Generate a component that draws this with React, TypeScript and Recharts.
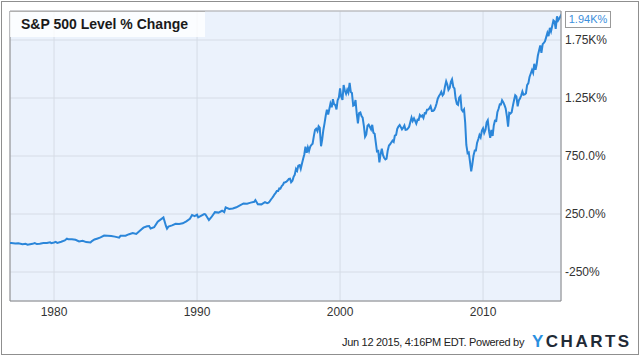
import { CartesianGrid, Line, LineChart, ReferenceLine, XAxis, YAxis } from "recharts";

// fractional year of each reading (month ends from 1995 on)
const years = [
  1976.92, 1977.0, 1977.3, 1977.5, 1977.8, 1978.0, 1978.15, 1978.5, 1978.65, 1978.8,
  1979.0, 1979.25, 1979.5, 1979.72, 1979.8, 1980.0, 1980.12, 1980.23, 1980.5, 1980.75,
  1980.9, 1981.0, 1981.25, 1981.5, 1981.75, 1982.0, 1982.25, 1982.55, 1982.65, 1982.83,
  1983.0, 1983.25, 1983.5, 1983.75, 1984.0, 1984.25, 1984.55, 1984.65, 1985.0, 1985.25,
  1985.5, 1985.75, 1986.0, 1986.25, 1986.5, 1986.65, 1986.75, 1987.0, 1987.25, 1987.65,
  1987.83, 1987.9, 1988.0, 1988.25, 1988.5, 1988.75, 1989.0, 1989.25, 1989.5, 1989.65,
  1989.83, 1990.0, 1990.08, 1990.5, 1990.58, 1990.83, 1991.0, 1991.25, 1991.5, 1991.75,
  1991.9, 1992.0, 1992.25, 1992.5, 1992.75, 1993.0, 1993.25, 1993.5, 1993.75, 1994.0,
  1994.08, 1994.25, 1994.5, 1994.75, 1994.9, 1995.0,
  1995.08, 1995.17, 1995.25, 1995.33, 1995.42, 1995.5, 1995.58, 1995.67, 1995.75, 1995.83, 1995.92, 1996.0,
  1996.08, 1996.17, 1996.25, 1996.33, 1996.42, 1996.5, 1996.58, 1996.67, 1996.75, 1996.83, 1996.92, 1997.0,
  1997.08, 1997.17, 1997.25, 1997.33, 1997.42, 1997.5, 1997.58, 1997.67, 1997.75, 1997.83, 1997.92, 1998.0,
  1998.08, 1998.17, 1998.25, 1998.33, 1998.42, 1998.5, 1998.58, 1998.67, 1998.75, 1998.83, 1998.92, 1999.0,
  1999.08, 1999.17, 1999.25, 1999.33, 1999.42, 1999.5, 1999.58, 1999.67, 1999.75, 1999.83, 1999.92, 2000.0,
  2000.08, 2000.17, 2000.25, 2000.33, 2000.42, 2000.5, 2000.58, 2000.67, 2000.75, 2000.83, 2000.92, 2001.0,
  2001.08, 2001.17, 2001.25, 2001.33, 2001.42, 2001.5, 2001.58, 2001.67, 2001.75, 2001.83, 2001.92, 2002.0,
  2002.08, 2002.17, 2002.25, 2002.33, 2002.42, 2002.5, 2002.58, 2002.67, 2002.75, 2002.83, 2002.92, 2003.0,
  2003.08, 2003.17, 2003.25, 2003.33, 2003.42, 2003.5, 2003.58, 2003.67, 2003.75, 2003.83, 2003.92, 2004.0,
  2004.08, 2004.17, 2004.25, 2004.33, 2004.42, 2004.5, 2004.58, 2004.67, 2004.75, 2004.83, 2004.92, 2005.0,
  2005.08, 2005.17, 2005.25, 2005.33, 2005.42, 2005.5, 2005.58, 2005.67, 2005.75, 2005.83, 2005.92, 2006.0,
  2006.08, 2006.17, 2006.25, 2006.33, 2006.42, 2006.5, 2006.58, 2006.67, 2006.75, 2006.83, 2006.92, 2007.0,
  2007.08, 2007.17, 2007.25, 2007.33, 2007.42, 2007.5, 2007.58, 2007.67, 2007.75, 2007.83, 2007.92, 2008.0,
  2008.08, 2008.17, 2008.25, 2008.33, 2008.42, 2008.5, 2008.58, 2008.67, 2008.75, 2008.83, 2008.92, 2009.0,
  2009.08, 2009.17, 2009.25, 2009.33, 2009.42, 2009.5, 2009.58, 2009.67, 2009.75, 2009.83, 2009.92, 2010.0,
  2010.08, 2010.17, 2010.25, 2010.33, 2010.42, 2010.5, 2010.58, 2010.67, 2010.75, 2010.83, 2010.92, 2011.0,
  2011.08, 2011.17, 2011.25, 2011.33, 2011.42, 2011.5, 2011.58, 2011.67, 2011.75, 2011.83, 2011.92, 2012.0,
  2012.08, 2012.17, 2012.25, 2012.33, 2012.42, 2012.5, 2012.58, 2012.67, 2012.75, 2012.83, 2012.92, 2013.0,
  2013.08, 2013.17, 2013.25, 2013.33, 2013.42, 2013.5, 2013.58, 2013.67, 2013.75, 2013.83, 2013.92, 2014.0,
  2014.08, 2014.17, 2014.25, 2014.33, 2014.42, 2014.5, 2014.58, 2014.67, 2014.75, 2014.83, 2014.92, 2015.0,
  2015.08, 2015.17, 2015.25, 2015.33, 2015.42, 2015.45,
];

// S&P 500 level, % change since start
const pctChange = [
  0, -1, -4, -3, -10, -7, -15, -7, 0, -9,
  -6, -1, 0, 6, -1, 5, 10, 0, 11, 22,
  37, 33, 33, 28, 13, 19, 8, 4, 16, 30,
  37, 48, 64, 62, 60, 55, 46, 62, 63, 76,
  86, 78, 106, 132, 144, 146, 125, 136, 184, 221,
  145, 124, 141, 152, 166, 164, 170, 187, 209, 242,
  232, 244, 221, 249, 247, 197, 222, 266, 262, 278,
  266, 307, 293, 298, 308, 325, 341, 339, 348, 355,
  370, 334, 333, 352, 343, 348,
  359, 375, 388, 402, 420, 432, 448, 448, 470, 468, 490, 501,
  520, 524, 529, 538, 553, 555, 524, 536, 570, 588, 639, 623,
  667, 672, 639, 681, 727, 763, 831, 777, 824, 793, 832, 846,
  856, 923, 975, 985, 964, 1006, 994, 834, 892, 972, 1036, 1099,
  1149, 1108, 1155, 1202, 1170, 1240, 1197, 1188, 1152, 1230, 1255, 1333,
  1260, 1233, 1362, 1317, 1286, 1320, 1296, 1381, 1302, 1294, 1183, 1188,
  1233, 1110, 1032, 1119, 1125, 1094, 1081, 1006, 916, 934, 1011, 1020,
  1002, 980, 1019, 951, 941, 866, 790, 794, 695, 764, 813, 759,
  735, 720, 727, 795, 840, 851, 866, 883, 872, 925, 932, 985,
  1003, 1017, 999, 980, 994, 1013, 975, 977, 988, 1002, 1045, 1082,
  1052, 1075, 1052, 1029, 1063, 1062, 1104, 1090, 1099, 1078, 1119, 1118,
  1149, 1150, 1163, 1179, 1139, 1139, 1146, 1172, 1203, 1244, 1267, 1283,
  1303, 1273, 1286, 1346, 1394, 1366, 1320, 1338, 1390, 1411, 1345, 1332,
  1245, 1199, 1191, 1252, 1266, 1149, 1136, 1152, 1038, 845, 774, 781,
  706, 617, 679, 752, 797, 797, 863, 896, 931, 911, 969, 988,
  948, 977, 1040, 1058, 962, 906, 975, 923, 1013, 1054, 1052, 1127,
  1155, 1195, 1194, 1231, 1212, 1189, 1160, 1089, 1003, 1122, 1117, 1127,
  1180, 1233, 1274, 1264, 1178, 1229, 1245, 1273, 1306, 1278, 1281, 1291,
  1361, 1378, 1431, 1459, 1491, 1467, 1545, 1493, 1541, 1614, 1662, 1703,
  1640, 1714, 1726, 1738, 1777, 1812, 1784, 1854, 1824, 1869, 1918, 1909,
  1846, 1954, 1918, 1935, 1956, 1943,
];

const xTicks = [1980, 1990, 2000, 2010];
const yTicks = [-250, 250, 750, 1250, 1750];
const yTickLabels = ["-250%", "250.0%", "750.0%", "1.25K%", "1.75K%"];
const lastLabel = "1.94K%";

const data = years.map((year, i) => ({ year, pct: pctChange[i] }));

const FONT = '"Liberation Sans", Arial, sans-serif';
const X_MIN = 1976.92;
const X_MAX = 2015.45;

export default function App() {
  return (
    <div style={{ position: "absolute", left: 0, top: 0, width: 640, height: 356, background: "#fff", fontFamily: FONT }}>
      <div style={{ position: "absolute", left: 1, top: 1, width: 636, height: 352, border: "1px solid #8f8f8f" }} />
      <LineChart width={640} height={356} data={data} margin={{ top: 11, right: 0, left: 10, bottom: 0 }}>
        <CartesianGrid fill="#ebf2fc" stroke="#d6dce6" />
        <XAxis
          dataKey="year"
          type="number"
          domain={[X_MIN, X_MAX]}
          ticks={xTicks}
          allowDataOverflow
          height={55}
          tickLine={false}
          tickSize={4}
          tickMargin={2}
          axisLine={{ stroke: "#8a8a8a" }}
          tick={{ fontSize: 12, fill: "#333", fontFamily: FONT }}
        />
        <YAxis
          orientation="right"
          type="number"
          domain={[-500, 2000]}
          ticks={yTicks}
          allowDataOverflow
          width={79}
          tickLine={false}
          tickSize={4}
          tickMargin={0}
          axisLine={{ stroke: "#8a8a8a" }}
          tickFormatter={(v: number) => yTickLabels[yTicks.indexOf(v)]}
          tick={{ fontSize: 12, fill: "#333", fontFamily: FONT, textAnchor: "start" }}
        />
        <ReferenceLine x={X_MIN} stroke="#8a8a8a" />
        <ReferenceLine y={2000} stroke="#b0b0b0" />
        <Line type="linear" dataKey="pct" stroke="#2b86d9" strokeWidth={2} dot={false} isAnimationActive={false} />
      </LineChart>
      <div
        style={{
          position: "absolute",
          left: 10,
          top: 11,
          width: 195,
          height: 26,
          background: "rgba(255,255,255,0.8)",
          borderTop: "1px solid #b0b0b0",
          boxSizing: "border-box",
          fontSize: 14,
          fontWeight: "bold",
          color: "#1a1a1a",
          paddingLeft: 11,
          lineHeight: "24px",
        }}
      >
        S&amp;P 500 Level % Change
      </div>
      <div
        style={{
          position: "absolute",
          left: 565,
          top: 11,
          width: 46,
          height: 17,
          boxSizing: "border-box",
          background: "#fff",
          border: "1px solid #999",
          color: "#3d8fdc",
          fontSize: 11,
          lineHeight: "15px",
          textAlign: "center",
        }}
      >
        {lastLabel}
      </div>
      <div
        style={{
          position: "absolute",
          left: 342,
          top: 335,
          fontSize: 11,
          letterSpacing: -0.3,
          color: "#222",
          lineHeight: "14px",
          whiteSpace: "nowrap",
        }}
      >
        Jun 12 2015, 4:16PM EDT. Powered by
      </div>
      <div
        style={{
          position: "absolute",
          left: 532,
          top: 332,
          fontSize: 17,
          fontWeight: "bold",
          letterSpacing: 2.5,
          lineHeight: "20px",
          whiteSpace: "nowrap",
          color: "#1f2a36",
        }}
      >
        <span style={{ color: "#2a8fe0" }}>Y</span>CHARTS
      </div>
    </div>
  );
}
